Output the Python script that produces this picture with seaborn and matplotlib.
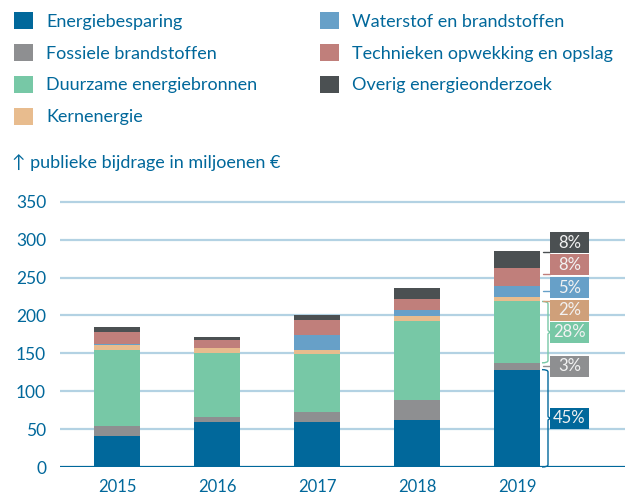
import matplotlib
matplotlib.use("Agg")
import matplotlib.pyplot as plt
from matplotlib.patches import Patch, Rectangle, PathPatch
from matplotlib.path import Path
import numpy as np
import pandas as pd
import seaborn as sns

# Public contribution to energy research, million euro
years = ["2015", "2016", "2017", "2018", "2019"]
categories = [
    "Energiebesparing",
    "Fossiele brandstoffen",
    "Duurzame energiebronnen",
    "Kernenergie",
    "Waterstof en brandstoffen",
    "Technieken opwekking en opslag",
    "Overig energieonderzoek",
]
energiebesparing = [41.5, 60.0, 60.0, 61.5, 128.5]
fossiel = [13.0, 6.5, 13.0, 27.0, 9.0]
duurzaam = [100.0, 84.5, 75.5, 104.0, 81.0]
kernenergie = [6.5, 6.5, 5.5, 6.5, 6.5]
waterstof = [1.3, 0.0, 20.0, 8.5, 13.5]
technieken = [16.0, 10.5, 20.5, 14.0, 23.5]
overig = [6.5, 4.0, 5.5, 14.5, 23.5]

series = [energiebesparing, fossiel, duurzaam, kernenergie, waterstof, technieken, overig]
colors = ["#01689B", "#8E8F91", "#77C8A6", "#E8BC8E", "#67A0C8", "#C07F7B", "#4B5052"]
box_colors = ["#01689B", "#8E8F91", "#77C8A6", "#CFA07A", "#67A0C8", "#C07F7B", "#4B5052"]

text_blue = "#01689B"
grid_blue = "#B3D2E3"

sns.set_theme(style="white")
plt.rcParams["font.family"] = ["Lato", "DejaVu Sans"]

fig = plt.figure(figsize=(6.25, 4.96), dpi=100)
ax = fig.add_axes([60 / 625, 29 / 496, 565 / 625, 272 / 496])

# Stacked bars: draw cumulative totals from the top layer down
values = np.array(series)
cum = np.cumsum(values, axis=0)
for i in range(len(categories) - 1, -1, -1):
    df = pd.DataFrame({"jaar": years, "waarde": cum[i]})
    sns.barplot(data=df, x="jaar", y="waarde", color=colors[i], width=0.46,
                saturation=1, linewidth=0, ax=ax, zorder=3)

ax.set_xlim(-0.57, 5.08)
ax.set_ylim(0, 359)
ax.set_yticks(np.arange(0, 351, 50))
ax.set_xlabel("")
ax.set_ylabel("")
for s in ax.spines.values():
    s.set_visible(False)
for t in np.arange(50, 351, 50):
    ax.axhline(t, color=grid_blue, lw=1.6, zorder=1)
ax.axhline(0, color=text_blue, lw=1.6, zorder=4)
ax.tick_params(axis="y", length=0, pad=10, labelsize=12.5, labelcolor=text_blue)
ax.tick_params(axis="x", length=0, pad=8.5, labelsize=12, labelcolor=text_blue)

# Share labels for the last year
last = len(years) - 1
col = values[:, last]
total = col.sum()
shares = [int(round(v / total * 100)) for v in col]
bottoms = cum[:, last] - col
centers = bottoms + col / 2

H = 27.5
gap = 2.6
bx0, bw = 4.33, 0.39
bar_right = last + 0.23
box_c = [0.0] * 7
box_c[0] = centers[0]
box_c[1] = centers[1]
box_c[2] = centers[2]
box_c[3] = box_c[2] + H + 1.3
box_c[4] = box_c[3] + H + gap
box_c[5] = box_c[4] + H + gap
box_c[6] = box_c[5] + H + 1.3


def brace(y0, y1, color):
    xm = bar_right + 0.08
    xt = xm + 0.035
    ymid = (y0 + y1) / 2
    verts = [
        (bar_right + 0.02, y0), (xm, y0), (xm, y0 + 3),
        (xm, ymid - 3), (xm, ymid - 0.5), (xt, ymid), (xt, ymid),
        (xm, ymid + 0.5), (xm, ymid + 3), (xm, y1 - 3), (xm, y1), (bar_right + 0.02, y1),
    ]
    codes = [Path.MOVETO, Path.CURVE3, Path.CURVE3,
             Path.LINETO, Path.CURVE3, Path.CURVE3, Path.LINETO,
             Path.CURVE3, Path.CURVE3, Path.LINETO, Path.CURVE3, Path.CURVE3]
    ax.add_patch(PathPatch(Path(verts, codes), fill=False, edgecolor=color, lw=1.0,
                           zorder=4, clip_on=False))


for i in range(7):
    c = box_c[i]
    ax.add_patch(Rectangle((bx0, c - H / 2), bw, H, facecolor=box_colors[i],
                           edgecolor="none", zorder=5, clip_on=False))
    ax.text(bx0 + bw / 2, c, f"{shares[i]}%", ha="center", va="center",
            color="#F2F2F2", fontsize=12, zorder=6)
    if i in (0, 2):
        brace(bottoms[i], cum[i, last], colors[i])
    else:
        ly = min(max(centers[i], c - H / 2 + 1.2), c + H / 2 - 1.2)
        ax.plot([bar_right + 0.03, bx0], [ly, ly], color=box_colors[i], lw=1.0,
                zorder=4, clip_on=False)

# Legend: two columns, drawn as two legends
handles = [Patch(facecolor=c, edgecolor="none") for c in colors]
leg_kw = dict(loc="upper left", frameon=False, fontsize=13, borderpad=0,
              borderaxespad=0, handlelength=1.05, handleheight=1.05,
              handletextpad=0.75, labelspacing=0.8)
leg1 = fig.legend(handles[:4], categories[:4],
                  bbox_to_anchor=(14 / 625, 1 - 12 / 496), **leg_kw)
leg2 = fig.legend(handles[4:], categories[4:],
                  bbox_to_anchor=(320 / 625, 1 - 12 / 496), **leg_kw)
for leg in (leg1, leg2):
    for t in leg.get_texts():
        t.set_color(text_blue)

fig.text(12 / 625, 1 - 163 / 496, "↑ publieke bijdrage in miljoenen €",
         color=text_blue, fontsize=13, va="center", ha="left")

fig.savefig("out.png", dpi=100)
